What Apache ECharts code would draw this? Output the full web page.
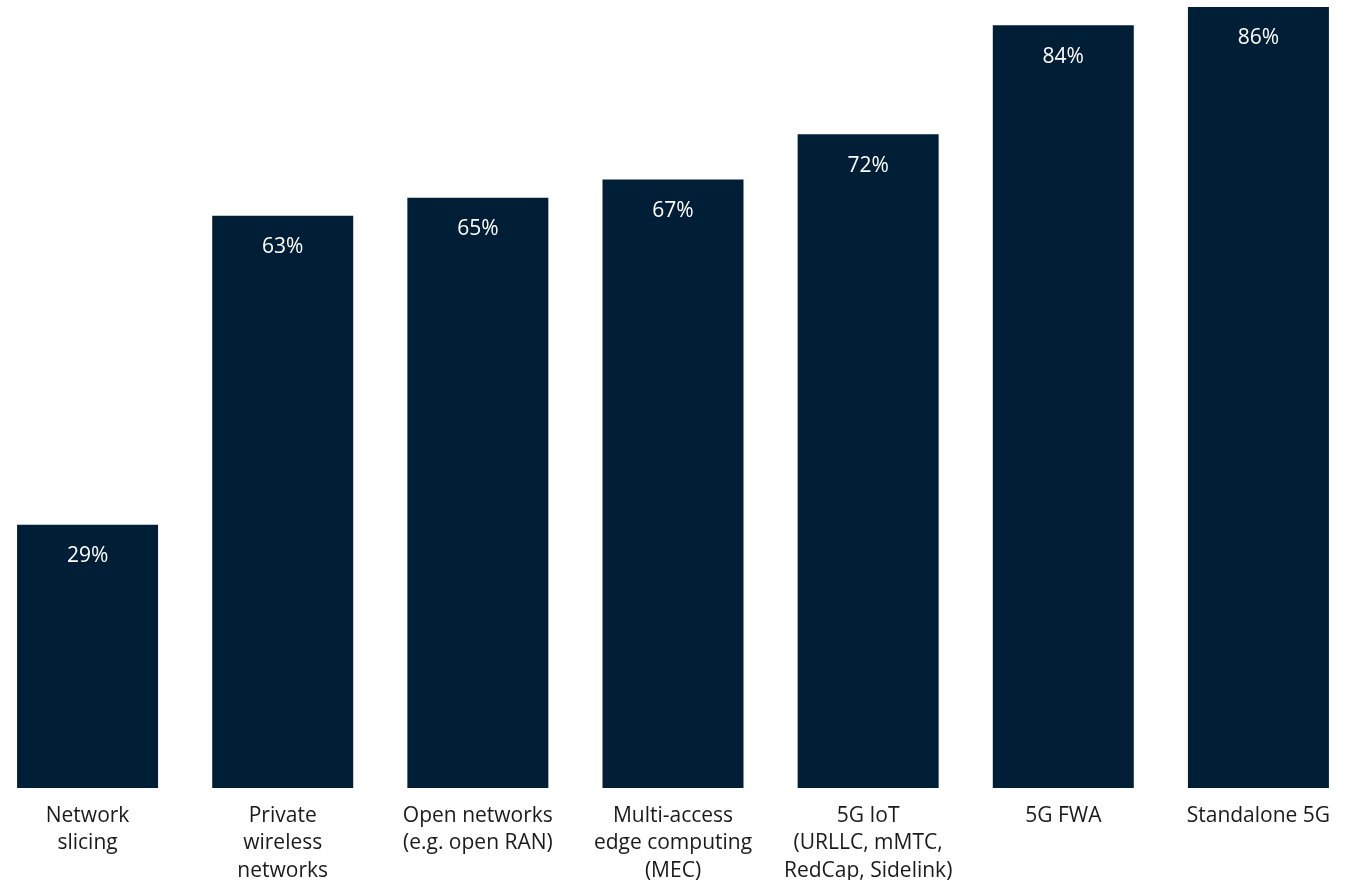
<!DOCTYPE html>
<html>
<head>
<meta charset="utf-8">
<script src="https://cdn.jsdelivr.net/npm/echarts@6/dist/echarts.min.js"></script>
<style>
  html, body { margin: 0; padding: 0; background: #ffffff; }
  #chart { width: 1351px; height: 880px; }
</style>
</head>
<body>
<div id="chart"></div>
<script>
// Technology categories (tick labels, wrapped as shown under each bar)
const categories = [
  "Network\nslicing",
  "Private\nwireless\nnetworks",
  "Open networks\n(e.g. open RAN)",
  "Multi-access\nedge computing\n(MEC)",
  "5G IoT\n(URLLC, mMTC,\nRedCap, Sidelink)",
  "5G FWA",
  "Standalone 5G"
];

// Share of respondents, percent
const values = [29, 63, 65, 67, 72, 84, 86];

const chart = echarts.init(document.getElementById('chart'), null, { renderer: 'canvas' });

chart.setOption({
  animation: false,
  backgroundColor: '#ffffff',
  grid: {
    left: -10, right: -5, top: 7, bottom: 92,
    containLabel: false,
    outerBoundsMode: 'none'
  },
  xAxis: {
    type: 'category',
    data: categories,
    axisLine: { show: false },
    axisTick: { show: false },
    axisLabel: {
      interval: 0,
      margin: 14,
      color: '#1a1a1a',
      fontFamily: '"Open Sans"',
      fontSize: 21,
      lineHeight: 27.5
    }
  },
  yAxis: {
    type: 'value',
    min: 0,
    max: 86,
    show: false,
    splitLine: { show: false }
  },
  series: [{
    type: 'bar',
    data: values,
    barWidth: 141,
    itemStyle: { color: '#001f36' },
    label: {
      show: true,
      position: 'insideTop',
      distance: 21,
      color: '#ffffff',
      fontFamily: '"Open Sans"',
      fontSize: 21,
      formatter: p => p.value + '%'
    }
  }]
});
</script>
</body>
</html>
